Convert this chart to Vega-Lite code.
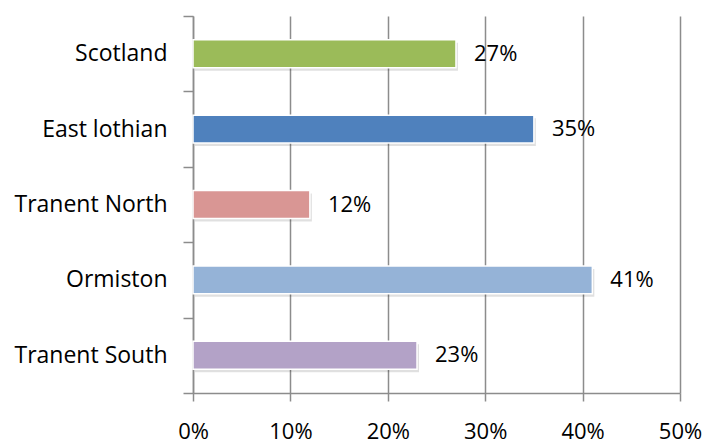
{
  "$schema": "https://vega.github.io/schema/vega-lite/v6.json",
  "autosize": {"type": "none"},
  "width": 487,
  "height": 377,
  "padding": {"left": 193, "top": 16, "right": 26, "bottom": 50},
  "background": "white",
  "data": {"values": [
    {"area": "Scotland", "pct": 0.27, "label": "27%", "color": "#9BBB59"},
    {"area": "East lothian", "pct": 0.35, "label": "35%", "color": "#4F81BD"},
    {"area": "Tranent North", "pct": 0.12, "label": "12%", "color": "#D99694"},
    {"area": "Ormiston", "pct": 0.41, "label": "41%", "color": "#95B3D7"},
    {"area": "Tranent South", "pct": 0.23, "label": "23%", "color": "#B3A2C7"}
  ]},
  "config": {
    "view": {"stroke": null},
    "font": "Open Sans"
  },
  "encoding": {
    "y": {
      "field": "area", "type": "nominal", "sort": null,
      "scale": {"paddingInner": 0, "paddingOuter": 0},
      "axis": {
        "title": null, "domainColor": "#8c8c8c", "domainWidth": 1.5,
        "tickColor": "#8c8c8c", "tickWidth": 1.5, "tickSize": 10, "tickBand": "extent",
        "labelFontSize": 23, "labelColor": "#000000", "labelPadding": 16,
        "labelFont": "Open Sans"
      }
    },
    "x": {
      "field": "pct", "type": "quantitative",
      "scale": {"domain": [0, 0.5], "nice": false},
      "axis": {
        "title": null, "format": ".0%", "values": [0, 0.1, 0.2, 0.3, 0.4, 0.5],
        "grid": true, "gridColor": "#8c8c8c", "gridWidth": 1.5,
        "domainColor": "#8c8c8c", "domainWidth": 1.5,
        "tickColor": "#8c8c8c", "tickWidth": 1.5, "tickSize": 8,
        "labelFlush": false,
        "labelFontSize": 22, "labelColor": "#000000", "labelPadding": 20,
        "labelFont": "Open Sans"
      }
    }
  },
  "layer": [
    {
      "mark": {"type": "bar", "height": {"band": 0.37}, "color": "#000000", "opacity": 0.12, "xOffset": 2, "yOffset": 3},
      "encoding": {}
    },
    {
      "mark": {"type": "bar", "height": {"band": 0.37}, "stroke": "white", "strokeWidth": 1.5},
      "encoding": {
        "color": {"field": "color", "type": "nominal", "scale": null, "legend": null}
      }
    },
    {
      "mark": {"type": "text", "align": "left", "dx": 18, "fontSize": 22, "font": "Open Sans", "color": "#000000"},
      "encoding": {"text": {"field": "label"}}
    }
  ]
}
